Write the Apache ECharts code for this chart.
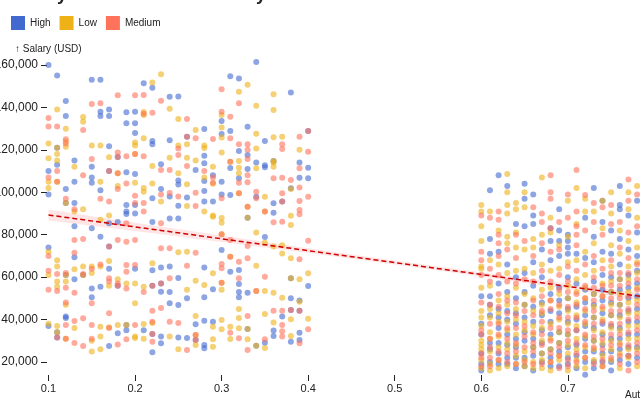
<!DOCTYPE html>
<html>
<head>
<meta charset="utf-8">
<script src="https://cdn.jsdelivr.net/npm/echarts@6/dist/echarts.min.js"></script>
<style>
  html, body { margin: 0; padding: 0; width: 640px; height: 400px; overflow: hidden; background: #fff; }
  #chart { position: absolute; left: 0; top: 0; width: 760px; height: 400px; }
</style>
</head>
<body>
<div id="chart"></div>
<script>
const categories = ['High', 'Low', 'Medium'];
const colors = ['#4269d0', '#efb118', '#ff725c'];

// salary in thousands of USD, grouped by automation-risk column
const highCols = [
  [0.10, [160, 110, 99, 74, 37]], [0.11, [155, 121, 113, 34, 31.5]], [0.12, [143, 136, 101.5, 95, 61, 41.5, 40.7]],
  [0.13, [115, 105, 95, 84, 69.4, 59]], [0.14, [61]], [0.15, [153, 112, 107, 104.5, 83, 54.6, 50.5]],
  [0.16, [153, 138, 136, 101, 79, 55.5]], [0.17, [139, 136, 121.7, 110, 85.4, 74.4, 64, 27.5]],
  [0.18, [116.6, 86, 56, 33.5]], [0.19, [137.7, 132.5, 109.5, 94, 91, 89.8, 37.4, 35]],
  [0.20, [138, 132.5, 128, 108.6, 94, 90, 64]], [0.21, [151.4, 35]],
  [0.22, [149.3, 124.2, 122.6, 97.2, 86, 63.2, 56, 33.2, 24.6]], [0.23, [113.2, 101.6, 64.6, 57, 53.1, 32, 28.8]],
  [0.24, [145, 124.5, 98, 87.7, 65, 53, 47.7]], [0.25, [145.2, 105.5, 103.7, 93.7, 87.7, 59.6, 46.9, 31.6]],
  [0.26, [126.2, 97.5, 50, 31.3]], [0.27, [110.5, 37.8, 30.4]],
  [0.28, [129.8, 117.2, 113.7, 105.3, 100.6, 95.6, 64.5, 50.5, 39.5, 28, 26.5]], [0.29, [108, 95.6, 54.3, 39]],
  [0.30, [133.6, 127.5, 105, 99, 72.8]], [0.31, [154.7, 128.9, 111.5, 98.7, 62.6]],
  [0.32, [153.6, 119.5, 106.6, 63.4, 56.8, 53, 50.5]], [0.33, [130.9, 117.6, 111, 88, 52.7, 35.6]],
  [0.34, [161.4, 114.1, 97.9, 27.7]], [0.35, [124.2, 112.7, 111.8, 78.9, 29.1]],
  [0.36, [114.8, 94.8, 90.4, 34.8, 32.3]], [0.37, [95.6, 41.4]], [0.38, [147, 101.9, 59.5, 50, 44.5, 29.6]],
  [0.39, [114.1, 106.9, 49, 44.2, 33.8, 30.4]], [0.40, [128.9, 111.6, 106.6, 55.8]],
  [0.60, [51, 38, 33, 24, 19, 16]], [0.61, [101, 78, 71, 51, 47, 42, 29, 26, 20]],
  [0.62, [108, 72, 57, 45, 41, 36, 29, 24, 19]], [0.63, [103, 66, 53, 44, 40, 33, 28, 22, 19]],
  [0.64, [85, 60, 50, 43, 38, 31, 27, 22, 17]], [0.65, [104, 97, 84, 62, 53, 47, 41, 34, 30, 22, 18]],
  [0.66, [99, 89, 85, 67, 56, 46, 39, 31, 27, 23, 16]], [0.67, [73, 60, 48, 42, 35, 29, 24, 20]],
  [0.68, [83, 77, 68, 52, 44, 39, 33, 26, 22, 18]], [0.69, [92, 82, 77, 70, 55, 49, 43, 34, 29, 25, 18]],
  [0.70, [80, 77, 74, 71, 60, 50, 45, 39, 33, 27, 22, 19]], [0.71, [71, 57, 46, 40, 35, 28, 23, 17]],
  [0.72, [88, 69, 54, 48, 42, 37, 31, 25, 20, 14]], [0.73, [102, 79, 67, 58, 52, 47, 41, 36, 30, 25, 20, 17]],
  [0.74, [96, 86, 72, 61, 54, 49, 43, 38, 33, 28, 24, 20]], [0.75, [82, 71, 60, 53, 48, 42, 37, 31, 25, 20, 16]],
  [0.76, [103, 94, 92, 78, 66, 59, 54, 47, 42, 36, 31, 26, 21]], [0.77, [89, 73, 61, 55, 50, 44, 39, 33, 27, 23, 19]],
  [0.78, [96, 81, 70, 63, 57, 51, 45, 39, 33, 27, 22]]
];
const lowCols = [
  [0.10, [123, 116, 105, 102, 72, 61, 38]], [0.11, [139, 121, 118, 115, 105, 68, 65, 58, 55.5, 37, 34]],
  [0.12, [130, 124, 121.5, 95, 61, 58, 47, 31]], [0.13, [112, 91, 63.7, 36]], [0.14, [135.5, 133.3, 92, 65, 61]],
  [0.15, [122, 65, 62, 30, 25]], [0.16, [122, 105, 87, 65, 36.6, 32, 26]], [0.17, [116.5, 89, 67.6, 56, 36.4]],
  [0.18, [109, 103, 59, 37.4]], [0.19, [57, 37.4]], [0.20, [123.5, 122, 118, 104.5, 57, 47.7, 32, 31.3]],
  [0.21, [137.8, 136.4, 125.5, 102, 100.3, 55.5, 37.9, 31]], [0.22, [151.7, 112.4, 104.2, 66.5, 38.4]],
  [0.23, [155.6, 95.6]], [0.24, [139.4, 116.3, 32]], [0.25, [134.5, 122, 109, 71.7, 26]],
  [0.26, [122.6, 116.3, 103.8, 93.5, 72, 54]], [0.27, [129.4, 115, 58.3, 41.7, 32.7, 28]],
  [0.28, [122, 120.9, 107, 90.9, 56.3]], [0.29, [112, 104, 89, 88.5, 61.8, 36.6, 30.7, 27.2]],
  [0.30, [136.4, 130.6, 125.8, 118.7, 87.9, 85.6, 80.2, 57.4, 54, 39.8, 35.4]], [0.31, [114.4, 69.6, 36.6, 30.8]],
  [0.32, [147.4, 114.8, 111.6, 109, 99.5, 45, 40.7, 35.9]], [0.33, [150.7, 93.2, 88, 35.6, 30.7]],
  [0.34, [140.8, 127.6, 120.7, 111.3, 81, 65.4, 53.5, 27.7]], [0.35, [97.9, 90.9, 76.2, 53.5, 42.6, 26.6]],
  [0.36, [146.2, 138.8, 126, 114.8, 114.1, 112, 74.4, 52.7, 38.6]], [0.37, [126.2, 75, 71.2, 50.3]],
  [0.38, [101.6, 88.9, 84.6, 68.9, 59.5, 40.1, 32.3]], [0.39, [120, 59, 48.4]], [0.40, [61.8, 40.4]],
  [0.60, [94, 91, 84, 77, 65, 64, 55, 44, 41, 37, 30, 28, 26, 21, 17]], [0.61, [91, 68, 56, 45, 41, 34, 31, 25, 19, 16]],
  [0.62, [82, 66, 49, 43, 39, 32, 27, 21, 17]], [0.63, [108.6, 100, 94, 90, 79, 76, 62, 51, 47, 39, 35, 29, 26, 18]],
  [0.64, [95, 92, 81, 74, 63, 55, 45, 40, 33, 28, 23, 19]], [0.65, [100, 93, 73, 64, 52, 47, 39, 35, 25, 21, 18]],
  [0.66, [78, 74, 62, 50, 44, 37, 33, 27, 20, 17]], [0.67, [107, 80, 66, 54, 47, 43, 36, 30, 24, 21, 17]],
  [0.68, [88, 81, 63, 55, 49, 38, 31, 26, 20, 16]], [0.69, [75, 64, 52, 46, 40, 34, 29, 23, 21]],
  [0.70, [96, 79, 67, 56, 50, 44, 38, 33, 28, 24, 16]], [0.71, [102, 85, 68, 59, 53, 48, 42, 37, 31, 26, 21, 18]],
  [0.72, [97, 91, 72, 61, 55, 50, 44, 38, 32, 27, 22, 17]], [0.73, [91, 76, 63, 52, 46, 41, 35, 30, 26, 21]],
  [0.74, [96, 83, 68, 57, 51, 45, 40, 34, 29, 23, 18]], [0.75, [100, 90, 75, 65, 58, 53, 47, 42, 36, 30, 26, 21]],
  [0.76, [82, 71, 59, 52, 47, 41, 35, 29, 24, 17]], [0.77, [100, 92, 77, 65, 59, 53, 48, 43, 37, 31, 26, 22]],
  [0.78, [103, 88, 74, 67, 62, 55, 49, 43, 37, 31, 26, 18]]
];
const mediumCols = [
  [0.10, [135, 131, 107, 70, 63, 54]], [0.11, [131, 110, 105, 61.5, 53.5, 31.5]],
  [0.12, [125, 123, 97, 62, 55, 48, 37.4, 31]], [0.13, [92, 77.5, 71.5, 52.7, 39.3, 29]],
  [0.14, [129.4, 108, 78, 61.5, 40.6, 27.5]], [0.15, [141.6, 115.7, 64, 47.7, 37.4, 31]], [0.16, [142, 97, 66]],
  [0.17, [110, 95.6, 74.4, 59.5, 58, 43, 36]], [0.18, [145.7, 118.7, 116.6, 109, 101.6, 77.5, 57, 56, 28.3]],
  [0.19, [117, 104.2, 85.4, 76.7, 65.7, 62.6, 54.7, 30.7]], [0.20, [145.7, 118, 98.4, 95, 77.5, 65.7, 37.4]],
  [0.21, [145.9, 137, 117, 95, 91, 53]], [0.22, [137.5, 56, 44.2, 39, 33.2, 29.6]],
  [0.23, [143.2, 110.5, 99, 85.4, 73.6, 57, 45.5]], [0.24, [110.5, 99.7, 73.6, 59.5, 39]], [0.25, [120.7, 117.6, 98, 38.4]],
  [0.26, [134.6, 126.2, 112.4, 65.4, 25.7]], [0.27, [125.5, 99.8, 93.5, 71.5, 32.7, 30.4]], [0.28, [110]],
  [0.29, [125.1, 107, 104.5]], [0.30, [148.6, 138, 97.2, 80.2, 66.2, 64.2, 57.4]],
  [0.31, [135.6, 125.5, 114.4, 77.5, 69.6, 33.8]], [0.32, [142, 122.6, 104.5, 99.5, 67.3, 59.5, 31.2]],
  [0.33, [122.6, 120, 115.7, 108, 104.7, 93.2, 74.7, 68.9, 41.7, 25.7]], [0.34, [100.3, 97.2, 53.5]],
  [0.35, [90.9, 60.2, 30.7]], [0.36, [106.6, 85.9, 44.2]],
  [0.37, [122.6, 120.4, 106.8, 99.5, 95.6, 86.1, 44.2, 37.4, 34.5, 32]], [0.38, [105.8, 44.5]],
  [0.39, [126.2, 111.3, 102.2, 95.9, 91.7, 89.6, 68.4, 44.2, 28.8]], [0.40, [128.9, 119.1, 97.9, 77.2, 35.4]],
  [0.60, [89, 72, 68, 61, 48, 35, 33, 24, 22, 18]], [0.61, [88, 64, 58, 47, 38, 31, 27, 22, 18]],
  [0.62, [91, 87, 80, 76, 70, 61, 52, 46, 38, 33, 25, 21]], [0.63, [73, 58, 49, 43, 36, 31, 24, 20]],
  [0.64, [80, 69, 57, 48, 42, 36, 29, 25, 19]], [0.65, [77, 59, 44, 37, 32, 27, 20]],
  [0.66, [93, 70, 58, 49, 42, 34, 29, 25, 19]], [0.67, [90, 86, 76, 63, 51, 44, 39, 33, 28, 19]],
  [0.68, [108, 100, 97, 83, 72, 58, 49, 45, 36, 30, 24, 20]], [0.69, [86, 73, 61, 54, 47, 41, 36, 27, 23, 17]],
  [0.70, [99, 88, 65, 58, 53, 46, 41, 35, 30, 21, 18]], [0.71, [110.5, 91, 84, 80, 75, 63, 52, 47, 41, 35, 29, 24, 20]],
  [0.72, [98.7, 82, 66, 56, 50, 45, 39, 33, 28, 22]], [0.73, [95, 86, 70, 60, 55, 49, 44, 38, 32, 27, 19]],
  [0.74, [93, 80, 64, 56, 51, 46, 39, 31, 26, 21, 18]], [0.75, [94, 85, 68, 62, 56, 50, 44, 38, 33, 28, 22]],
  [0.76, [86, 74, 62, 56, 50, 44, 38, 33, 28, 23, 19]], [0.77, [106, 96, 81, 69, 62, 57, 51, 45, 40, 34, 28, 23, 16]],
  [0.78, [99, 84, 66, 59, 54, 47, 41, 35, 29, 24, 20]]
];

// linear regression line and its confidence band (thousands)
const regX = [0.1, 0.87];
const regY = [89.3, 46.1];
const bandX = [0.1, 0.2, 0.3, 0.4, 0.5, 0.6, 0.7, 0.8, 0.87];
const bandLow = [86.7, 81.7, 76.6, 71.4, 66.0, 60.3, 54.3, 48.3, 44.1];
const bandHigh = [91.9, 85.7, 79.6, 73.6, 67.8, 62.3, 56.9, 51.7, 48.1];

const xTicks = [0.1, 0.2, 0.3, 0.4, 0.5, 0.6, 0.7, 0.8];
const yTicks = [20000, 40000, 60000, 80000, 100000, 120000, 140000, 160000];

const toPoints = (cols) => cols.flatMap(([x, ys]) => ys.map((y) => [x, y * 1000]));
const seriesCols = [highCols, lowCols, mediumCols];

const font = '"Liberation Sans", Arial, sans-serif';
const chart = echarts.init(document.getElementById('chart'), null, { renderer: 'canvas' });

chart.setOption({
  animation: false,
  textStyle: { fontFamily: font },
  grid: { left: 47, right: 45, top: 54.4, bottom: 25, containLabel: false, outerBoundsMode: 'none' },
  legend: {
    data: categories.map((name, i) => ({ name: name, itemStyle: { color: colors[i], opacity: 1 } })),
    left: 11,
    top: 16,
    padding: 0,
    icon: 'rect',
    itemWidth: 14,
    itemHeight: 14,
    itemGap: 9,
    selectedMode: false,
    textStyle: { fontFamily: font, fontSize: 10, color: '#222' }
  },
  graphic: [
    {
      type: 'text',
      left: 13,
      top: -14,
      style: { text: 'Salary vs Automation Risk by Level', font: 'bold 18px ' + font, fill: '#222' }
    },
    {
      type: 'text',
      left: 15,
      top: 44,
      style: { text: '↑ Salary (USD)', font: '10px ' + font, fill: '#222' }
    },
    {
      type: 'text',
      left: 625,
      top: 390,
      style: { text: 'Automation Risk →', font: '10px ' + font, fill: '#222' }
    }
  ],
  xAxis: {
    type: 'value',
    min: 0.09827,
    max: 0.87,
    axisLine: { show: false },
    splitLine: { show: false },
    axisTick: { show: true, length: 6, lineStyle: { color: '#222' }, customValues: xTicks },
    axisLabel: {
      customValues: xTicks,
      margin: 8,
      fontSize: 11,
      color: '#222',
      fontFamily: font,
      formatter: (v) => v.toFixed(1)
    }
  },
  yAxis: {
    type: 'value',
    min: 13872,
    max: 165000,
    axisLine: { show: false },
    splitLine: { show: false },
    axisTick: { show: true, length: 6, lineStyle: { color: '#222' }, customValues: yTicks },
    axisLabel: {
      customValues: yTicks,
      margin: 9,
      fontSize: 12,
      color: '#222',
      fontFamily: font,
      formatter: (v) => v.toLocaleString('en-US')
    }
  },
  series: [
    {
      name: 'band',
      type: 'custom',
      silent: true,
      z: 1,
      data: [0],
      renderItem: function (params, api) {
        const pts = [];
        bandX.forEach((x, i) => pts.push(api.coord([x, bandHigh[i] * 1000])));
        for (let i = bandX.length - 1; i >= 0; i--) pts.push(api.coord([bandX[i], bandLow[i] * 1000]));
        return { type: 'polygon', shape: { points: pts }, style: { fill: 'rgba(255, 0, 0, 0.1)' } };
      }
    },
    ...categories.map((name, i) => ({
      name: name,
      type: 'scatter',
      clip: false,
      symbol: 'circle',
      symbolSize: 6,
      z: 2,
      itemStyle: { color: colors[i], opacity: 0.6 },
      data: toPoints(seriesCols[i])
    })),
    {
      name: 'trend',
      type: 'line',
      symbol: 'none',
      z: 3,
      silent: true,
      lineStyle: { color: '#c00', width: 1.5, type: [5, 3] },
      data: regX.map((x, i) => [x, regY[i] * 1000])
    }
  ]
});
</script>
</body>
</html>
